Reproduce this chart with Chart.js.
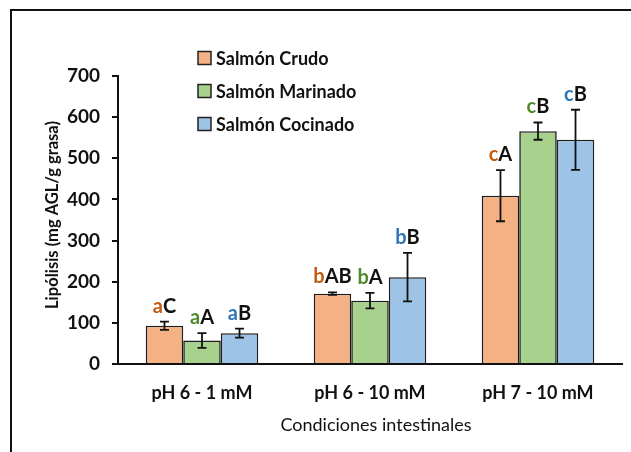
<!DOCTYPE html>
<html><head><meta charset="utf-8">
<script src="https://cdn.jsdelivr.net/npm/chart.js@4/dist/chart.umd.min.js"></script>
<style>html,body{margin:0;padding:0;background:#fff}#wrap{width:631px;height:452px;position:relative}</style>
</head><body><div id="wrap"><canvas id="c" width="631" height="452"></canvas></div>
<script>
const categories = ['pH 6 - 1 mM', 'pH 6 - 10 mM', 'pH 7 - 10 mM'];
const seriesNames = ['Salmón Crudo', 'Salmón Marinado', 'Salmón Cocinado'];
const crudo = [93, 171, 409];
const crudoErr = [10, 3, 62];
const marinado = [57, 154, 566];
const marinadoErr = [18, 19, 21];
const cocinado = [75, 211, 545];
const cocinadoErr = [11, 59, 73];
const lowerLetters = ['a', 'b', 'c'];
const crudoUpper = ['C', 'AB', 'A'];
const marinadoUpper = ['A', 'A', 'B'];
const cocinadoUpper = ['B', 'B', 'B'];
const yTicks = [0, 100, 200, 300, 400, 500, 600, 700];
const xTitle = 'Condiciones intestinales';
const yTitle = 'Lipólisis (mg AGL/g grasa)';

const fills = ['#F4B183', '#A9D18E', '#9DC3E6'];
const letterColors = ['#C55A11', '#4E8A2E', '#2E75B6'];
const errs = [crudoErr, marinadoErr, cocinadoErr];
const uppers = [crudoUpper, marinadoUpper, cocinadoUpper];
const FONT = 'Lato';

const extras = {
  id: 'extras',
  beforeDraw(chart) {
    const ctx = chart.ctx;
    ctx.save();
    ctx.fillStyle = '#fff';
    ctx.fillRect(0, 0, chart.width, chart.height);
    ctx.strokeStyle = '#111';
    ctx.lineWidth = 2;
    ctx.beginPath();
    ctx.moveTo(11, chart.height + 5);
    ctx.lineTo(11, 10);
    ctx.lineTo(chart.width + 5, 10);
    ctx.stroke();
    ctx.restore();
  },
  afterDatasetsDraw(chart) {
    const ctx = chart.ctx;
    const y = chart.scales.y;
    ctx.save();
    chart.data.datasets.forEach((ds, di) => {
      const meta = chart.getDatasetMeta(di);
      meta.data.forEach((bar, i) => {
        const v = ds.data[i], e = errs[di][i];
        const x = bar.x;
        const yt = y.getPixelForValue(v + e), yb = y.getPixelForValue(v - e);
        ctx.strokeStyle = '#111';
        ctx.lineWidth = 1.8;
        ctx.beginPath();
        ctx.moveTo(x, yt); ctx.lineTo(x, yb);
        ctx.moveTo(x - 4.5, yt); ctx.lineTo(x + 4.5, yt);
        ctx.moveTo(x - 4.5, yb); ctx.lineTo(x + 4.5, yb);
        ctx.stroke();
        ctx.font = 'bold 20px ' + FONT;
        ctx.textBaseline = 'alphabetic';
        const lo = lowerLetters[i], up = uppers[di][i];
        const wl = ctx.measureText(lo).width, wu = ctx.measureText(up).width;
        const sx = x - (wl + wu) / 2;
        const by = yt - 9;
        ctx.textAlign = 'left';
        ctx.fillStyle = letterColors[di];
        ctx.fillText(lo, sx, by);
        ctx.fillStyle = '#111';
        ctx.fillText(up, sx + wl, by);
      });
    });
    const rows = [58, 91, 124];
    ctx.font = 'bold 18px ' + FONT;
    ctx.textBaseline = 'middle';
    ctx.textAlign = 'left';
    chart.data.datasets.forEach((ds, di) => {
      const cy = rows[di];
      ctx.fillStyle = ds.backgroundColor;
      ctx.fillRect(198, cy - 6.5, 13, 13);
      ctx.strokeStyle = '#222';
      ctx.lineWidth = 1.5;
      ctx.strokeRect(198, cy - 6.5, 13, 13);
      ctx.fillStyle = '#111';
      ctx.fillText(ds.label, 216, cy + 1);
    });
    // axis titles
    ctx.fillStyle = '#111';
    ctx.textAlign = 'center';
    ctx.textBaseline = 'middle';
    ctx.font = '18px ' + FONT;
    ctx.fillText(xTitle, 376, 425);
    ctx.save();
    ctx.translate(53, 215);
    ctx.rotate(-Math.PI / 2);
    ctx.font = 'bold 16.5px ' + FONT;
    ctx.fillText(yTitle, 0, 0);
    ctx.restore();
    ctx.restore();
  }
};

new Chart(document.getElementById('c'), {
  type: 'bar',
  data: {
    labels: categories,
    datasets: [
      { label: seriesNames[0], data: crudo, backgroundColor: fills[0] },
      { label: seriesNames[1], data: marinado, backgroundColor: fills[1] },
      { label: seriesNames[2], data: cocinado, backgroundColor: fills[2] }
    ].map(d => Object.assign(d, { borderColor: '#1e1e1e', borderWidth: 1.6, categoryPercentage: 0.67, barPercentage: 1 }))
  },
  options: {
    responsive: false,
    animation: false,
    layout: { padding: { left: 0, right: 9, top: 76, bottom: 0 } },
    plugins: { legend: { display: false }, tooltip: { enabled: false } },
    scales: {
      x: {
        afterFit(s) { s.height = 88; },
        grid: { display: false, drawTicks: false },
        border: { color: '#111', width: 2 },
        ticks: { color: '#111', padding: 18, font: { family: FONT, size: 18, weight: 'bold' } }
      },
      y: {
        min: 0, max: 700,
        afterFit(s) { s.width = 118; },
        afterBuildTicks(s) { s.ticks = yTicks.map(v => ({ value: v })); },
        grid: { drawOnChartArea: false, drawTicks: true, tickLength: 6, color: '#111', lineWidth: 2 },
        border: { color: '#111', width: 2 },
        ticks: { color: '#111', padding: 12, font: { family: FONT, size: 19, weight: 'bold' } }
      }
    }
  },
  plugins: [extras]
});
</script></body></html>
